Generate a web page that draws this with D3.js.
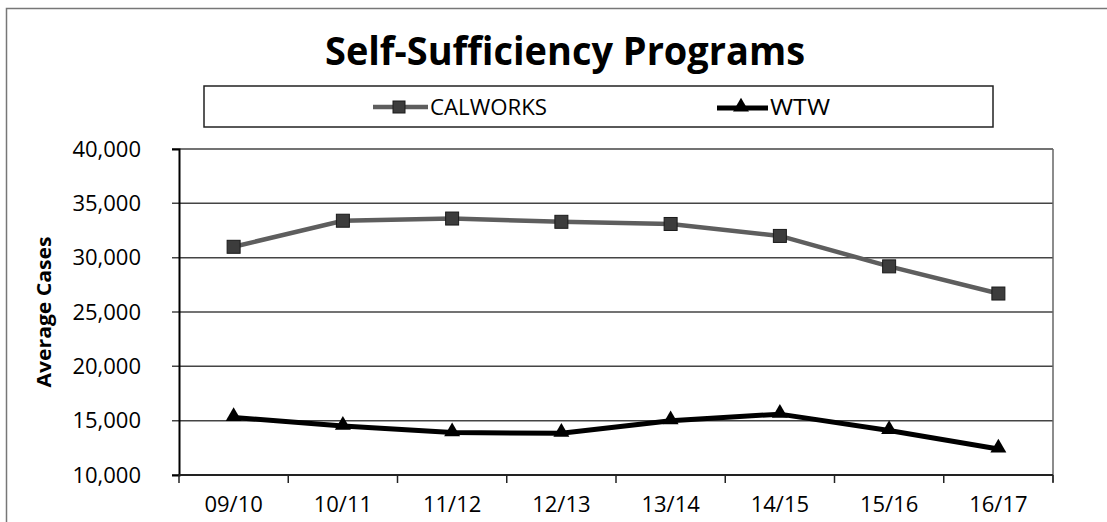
<!DOCTYPE html>
<html>
<head>
<meta charset="utf-8">
<title>Self-Sufficiency Programs</title>
<style>
  body { margin: 0; background: #fff; }
  svg { display: block; }
</style>
</head>
<body>
<svg width="1107" height="522"></svg>
<script src="https://d3js.org/d3.v7.min.js"></script>
<script>

// data
const years = ["09/10", "10/11", "11/12", "12/13", "13/14", "14/15", "15/16", "16/17"]
const calworks = [31000, 33400, 33600, 33300, 33100, 32000, 29200, 26700]
const wtw = [15300, 14500, 13900, 13850, 15000, 15600, 14100, 12400]
const yTicks = [10000, 15000, 20000, 25000, 30000, 35000, 40000]

const svg = d3.select("svg")
const font = "'Open Sans', sans-serif"

const plotL = 179, plotR = 1053, plotT = 149, plotB = 475

const x = d3.scaleBand().domain(years).range([plotL, plotR])
const y = d3.scaleLinear().domain([10000, 40000]).range([plotB, plotT])

// outer frame
svg.append("rect")
    .attr("x", 6.5).attr("y", 8.5)
    .attr("width", 1120).attr("height", 530)
    .attr("fill", "none").attr("stroke", "#777").attr("stroke-width", 1.5)

// title
svg.append("text")
    .attr("x", 565).attr("y", 65)
    .attr("text-anchor", "middle")
    .attr("font-family", font).attr("font-weight", "bold")
    .attr("font-size", 39)
    .attr("textLength", 480).attr("lengthAdjust", "spacingAndGlyphs")
    .text("Self-Sufficiency Programs")

// grid lines
svg.append("g")
    .selectAll("line")
    .data(yTicks)
    .join("line")
      .attr("x1", plotL - 7).attr("x2", plotR)
      .attr("y1", d => y(d)).attr("y2", d => y(d))
      .attr("stroke", "#444").attr("stroke-width", 1.5)

// right edge of plot
svg.append("line")
    .attr("x1", plotR).attr("x2", plotR)
    .attr("y1", plotT).attr("y2", plotB + 7)
    .attr("stroke", "#666").attr("stroke-width", 1.5)

// y axis
const yAxis = svg.append("g")
    .attr("transform", `translate(${plotL},0)`)
    .call(d3.axisLeft(y).tickValues(yTicks).tickFormat(d3.format(",")).tickSize(7).tickPadding(31))
yAxis.select(".domain").attr("stroke", "#000").attr("stroke-width", 2)
yAxis.selectAll(".tick line").remove()
yAxis.selectAll("text")
    .attr("font-family", font).attr("font-size", 22).attr("fill", "#000")

// x axis: ticks on category boundaries
const xAxis = svg.append("g")
    .attr("transform", `translate(0,${plotB})`)
    .call(d3.axisBottom(x).tickSize(0).tickPadding(21))
xAxis.select(".domain").remove()
xAxis.selectAll("text")
    .attr("font-family", font).attr("font-size", 22).attr("fill", "#000")
svg.append("g")
    .selectAll("line")
    .data(d3.range(years.length + 1))
    .join("line")
      .attr("x1", i => plotL + i * x.step()).attr("x2", i => plotL + i * x.step())
      .attr("y1", plotB).attr("y2", plotB + 8)
      .attr("stroke", "#222").attr("stroke-width", 1.5)
svg.append("line")
    .attr("x1", plotL).attr("x2", plotR)
    .attr("y1", plotB).attr("y2", plotB)
    .attr("stroke", "#222").attr("stroke-width", 2)

// y title
svg.append("text")
    .attr("transform", `translate(51,${(plotT + plotB) / 2}) rotate(-90)`)
    .attr("text-anchor", "middle")
    .attr("font-family", font).attr("font-weight", "bold").attr("font-size", 20)
    .attr("textLength", 151).attr("lengthAdjust", "spacingAndGlyphs")
    .text("Average Cases")

const cx = d => x(d) + x.bandwidth() / 2
const line = d3.line().x((d, i) => cx(years[i])).y(d => y(d))

const tri = d3.symbol().type(d3.symbolTriangle).size(110)

// CALWORKS
svg.append("path")
    .datum(calworks)
    .attr("d", line)
    .attr("fill", "none").attr("stroke", "#5e5e5e").attr("stroke-width", 4.5)
svg.append("g")
    .selectAll("rect")
    .data(calworks)
    .join("rect")
      .attr("x", (d, i) => cx(years[i]) - 6.5).attr("y", d => y(d) - 6.5)
      .attr("width", 13).attr("height", 13)
      .attr("fill", "#3c3c3c").attr("stroke", "#1a1a1a").attr("stroke-width", 1)

// WTW
svg.append("path")
    .datum(wtw)
    .attr("d", line)
    .attr("fill", "none").attr("stroke", "#000").attr("stroke-width", 5)
svg.append("g")
    .selectAll("path")
    .data(wtw)
    .join("path")
      .attr("d", tri)
      .attr("transform", (d, i) => `translate(${cx(years[i])},${y(d) - 1})`)
      .attr("fill", "#000")

// legend
svg.append("rect")
    .attr("x", 204).attr("y", 86)
    .attr("width", 789).attr("height", 41)
    .attr("fill", "#fff").attr("stroke", "#222").attr("stroke-width", 1.5)

const lg = svg.append("g")
lg.append("line").attr("x1", 373).attr("x2", 428).attr("y1", 107).attr("y2", 107)
    .attr("stroke", "#5e5e5e").attr("stroke-width", 4.5)
lg.append("rect").attr("x", 393).attr("y", 101).attr("width", 12).attr("height", 12)
    .attr("fill", "#3c3c3c").attr("stroke", "#1a1a1a")
lg.append("text").attr("x", 430).attr("y", 115)
    .attr("font-family", font).attr("font-size", 21)
    .attr("textLength", 117).attr("lengthAdjust", "spacingAndGlyphs")
    .text("CALWORKS")

lg.append("line").attr("x1", 717).attr("x2", 768).attr("y1", 108).attr("y2", 108)
    .attr("stroke", "#000").attr("stroke-width", 5)
lg.append("path").attr("d", tri).attr("transform", "translate(741,107)").attr("fill", "#000")
lg.append("text").attr("x", 770).attr("y", 115)
    .attr("font-family", font).attr("font-size", 21)
    .attr("textLength", 60).attr("lengthAdjust", "spacingAndGlyphs")
    .text("WTW")

</script>
</body>
</html>
